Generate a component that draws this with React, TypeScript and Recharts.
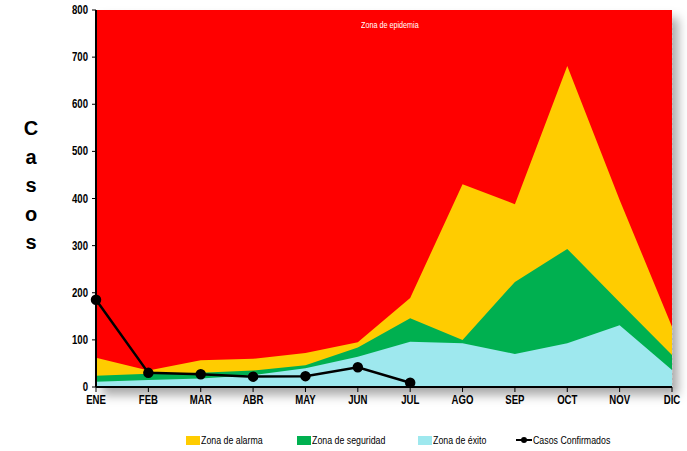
import React from "react";
import {
  Area,
  CartesianGrid,
  ComposedChart,
  Legend,
  Line,
  XAxis,
  YAxis,
} from "recharts";

const months = ["ENE", "FEB", "MAR", "ABR", "MAY", "JUN", "JUL", "AGO", "SEP", "OCT", "NOV", "DIC"];
const epidemia = [800, 800, 800, 800, 800, 800, 800, 800, 800, 800, 800, 800];
const alarma = [62, 35, 57, 60, 72, 95, 189, 430, 388, 681, 397, 128];
const seguridad = [24, 28, 30, 35, 46, 84, 146, 100, 223, 293, 180, 68];
const exito = [11, 15, 18, 25, 40, 64, 96, 93, 70, 93, 131, 36];
const confirmados: (number | null)[] = [185, 30, 27, 22, 23, 42, 9, null, null, null, null, null];
const yTicks = [0, 100, 200, 300, 400, 500, 600, 700, 800];

const data = months.map((m, i) => ({
  month: m,
  epidemia: epidemia[i],
  alarma: alarma[i],
  seguridad: seguridad[i],
  exito: exito[i],
  confirmados: confirmados[i],
}));

const FONT = "'Liberation Sans', Arial, sans-serif";
const NARROW = 0.8;

const legendItems = [
  { label: "Zona de alarma", color: "#FFCC00", left: 186, type: "square" },
  { label: "Zona de seguridad", color: "#00B050", left: 297, type: "square" },
  { label: "Zona de éxito", color: "#9EE8EE", left: 418, type: "square" },
  { label: "Casos Confirmados", color: "#000", left: 516, type: "line" },
];

function ChartLegend() {
  return (
    <div style={{ position: "relative", width: 687, height: 24, fontFamily: FONT, fontSize: 11 }}>
      {legendItems.map((it) => (
        <div
          key={it.label}
          style={{ position: "absolute", left: it.left, top: 7, display: "flex", alignItems: "center", whiteSpace: "nowrap" }}
        >
          {it.type === "square" ? (
            <span style={{ display: "inline-block", width: 14, height: 9, background: it.color, marginRight: 1 }} />
          ) : (
            <svg width={16} height={10} style={{ marginRight: 1 }}>
              <line x1={0} y1={5} x2={16} y2={5} stroke="#000" strokeWidth={2} />
              <circle cx={8} cy={5} r={3} fill="#000" />
            </svg>
          )}
          <span style={{ display: "inline-block", transform: `scaleX(${NARROW})`, transformOrigin: "left center" }}>
            {it.label}
          </span>
        </div>
      ))}
    </div>
  );
}

function XTick({ x, y, payload }: any) {
  return (
    <g transform={`translate(${x},${y + 10}) scale(${NARROW},1)`}>
      <text textAnchor="middle" fill="#000" fontSize={12} fontWeight="bold" fontFamily={FONT}>
        {payload.value}
      </text>
    </g>
  );
}

function YTick({ x, y, payload }: any) {
  return (
    <g transform={`translate(${x - 2},${y + 4}) scale(${NARROW},1)`}>
      <text textAnchor="end" fill="#000" fontSize={12} fontWeight="bold" fontFamily={FONT}>
        {payload.value}
      </text>
    </g>
  );
}

function CasosLabel() {
  const letters = ["C", "a", "s", "o", "s"];
  return (
    <text x={31} y={135} textAnchor="middle" fontFamily={FONT} fontWeight="bold" fontSize={20} fill="#000">
      {letters.map((l, i) => (
        <tspan key={i} x={31} y={135 + i * 28.5}>
          {l}
        </tspan>
      ))}
    </text>
  );
}

export default function App() {
  return (
    <div style={{ position: "absolute", left: 0, top: 0, width: 687, height: 451, background: "#fff" }}>
      <div
        style={{
          position: "absolute",
          left: 96,
          top: 10,
          width: 576,
          height: 377,
          boxShadow: "6px 8px 10px rgba(0,0,0,0.35)",
        }}
      />
      <ComposedChart
        width={687}
        height={451}
        data={data}
        margin={{ top: 10, right: 15, left: 0, bottom: 0 }}
        style={{ position: "absolute", left: 0, top: 0 }}
      >
        <CartesianGrid stroke="rgba(255,255,255,0.45)" strokeDasharray="3 2" />
        <XAxis
          dataKey="month"
          height={40}
          interval={0}
          tick={<XTick />}
          tickLine={{ stroke: "#000" }}
          tickSize={5}
          axisLine={{ stroke: "#000", strokeWidth: 2 }}
        />
        <YAxis
          width={96}
          domain={[0, 800]}
          ticks={yTicks}
          interval={0}
          tick={<YTick />}
          tickLine={{ stroke: "#000" }}
          tickSize={4}
          axisLine={{ stroke: "#000", strokeWidth: 2 }}
          label={<CasosLabel />}
        />
        <Area dataKey="epidemia" type="linear" stroke="none" fill="#FF0000" fillOpacity={1} isAnimationActive={false} legendType="none" />
        <Area dataKey="alarma" type="linear" stroke="none" fill="#FFCC00" fillOpacity={1} isAnimationActive={false} />
        <Area dataKey="seguridad" type="linear" stroke="none" fill="#00B050" fillOpacity={1} isAnimationActive={false} />
        <Area dataKey="exito" type="linear" stroke="none" fill="#9EE8EE" fillOpacity={1} isAnimationActive={false} />
        <Line
          dataKey="confirmados"
          type="linear"
          stroke="#000"
          strokeWidth={2.5}
          dot={{ r: 4, fill: "#000", stroke: "#000" }}
          isAnimationActive={false}
        />
        <Legend verticalAlign="bottom" content={<ChartLegend />} wrapperStyle={{ bottom: 0, left: 0 }} />
      </ComposedChart>
      <div
        style={{
          position: "absolute",
          left: 361,
          top: 20,
          color: "#fff",
          fontFamily: FONT,
          fontSize: 9,
          whiteSpace: "nowrap",
          transform: `scaleX(${NARROW})`,
          transformOrigin: "left top",
        }}
      >
        Zona de epidemia
      </div>
    </div>
  );
}
